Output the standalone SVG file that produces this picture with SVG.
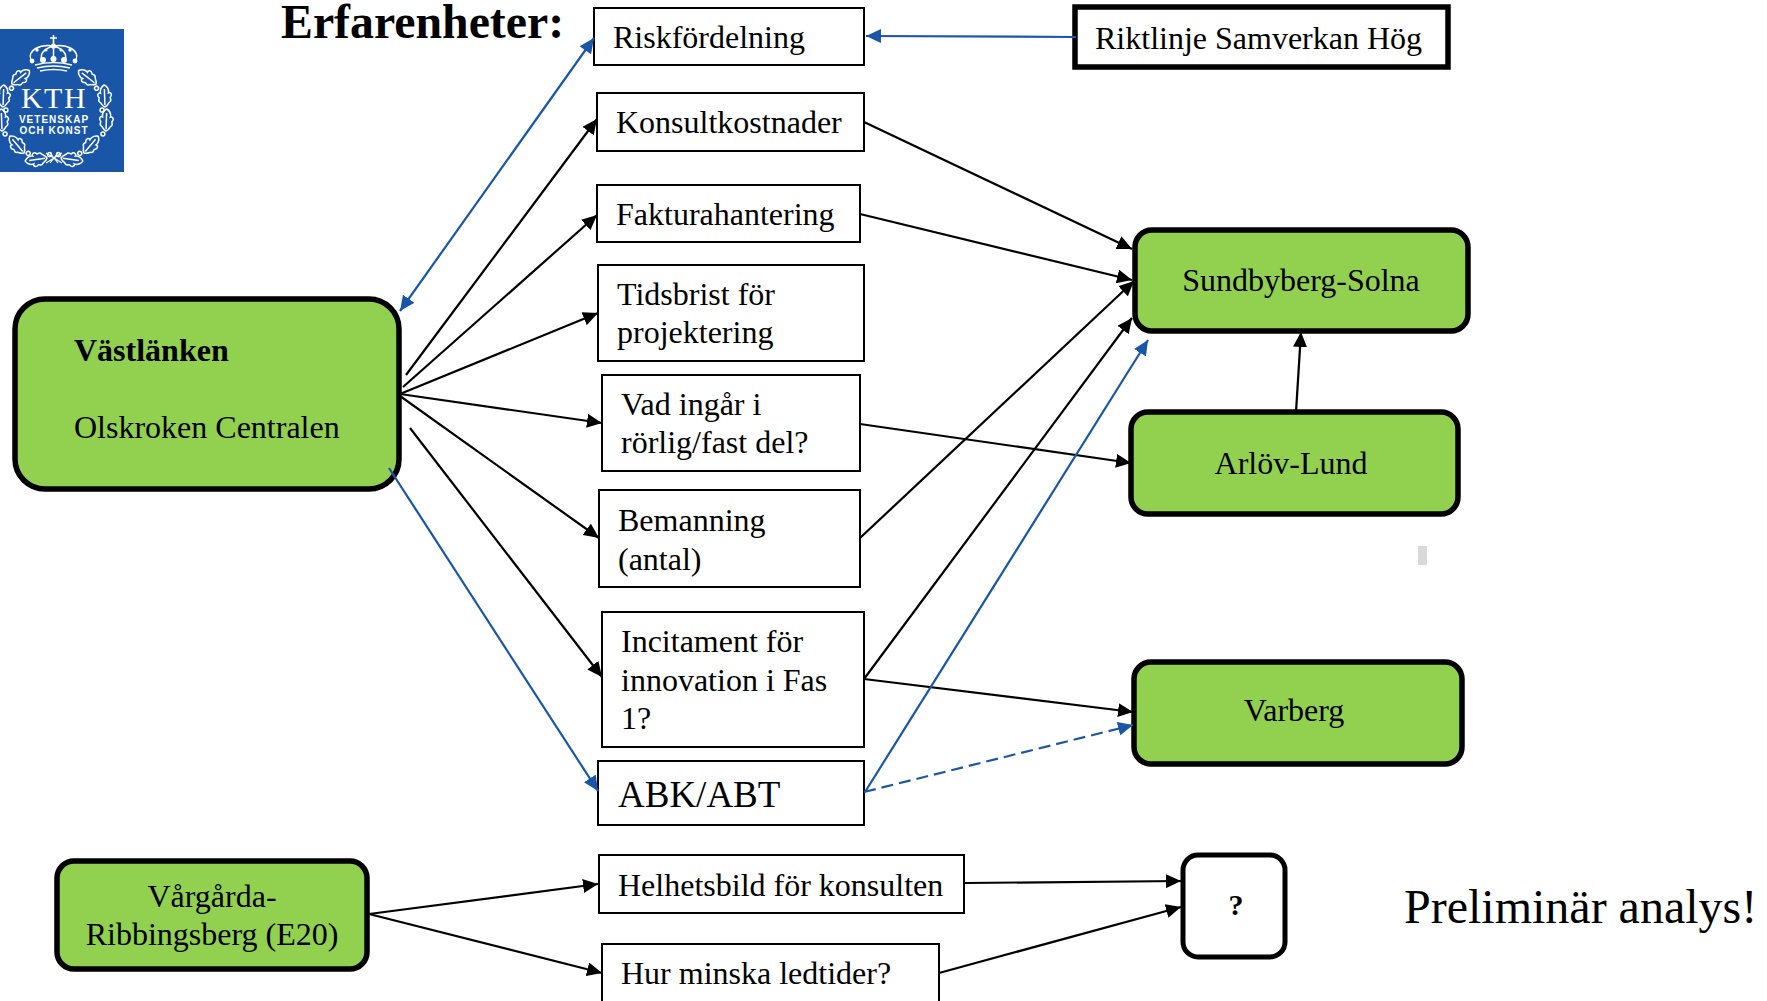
<svg xmlns="http://www.w3.org/2000/svg" width="1767" height="1001" viewBox="0 0 1767 1001">
<style>
text{font-family:"Liberation Serif","Times New Roman",serif;fill:#000;font-size:32px}
.b{fill:#fff;stroke:#000;stroke-width:2}
.g{fill:#92d050;stroke:#000;stroke-width:5.5}
.k{stroke:#000;stroke-width:2.2;fill:none;marker-end:url(#ak)}
.u{stroke:#1a56a8;stroke-width:2.2;fill:none;marker-end:url(#au)}
.w{font-family:"Liberation Sans",sans-serif;fill:#fff;font-size:10px;font-weight:bold;letter-spacing:1px;text-anchor:middle}
.m{text-anchor:middle}
.wr{fill:none;stroke:#fff;stroke-width:1.5}
.wf{fill:#fff}
</style>
<defs>
<marker id="ak" markerUnits="userSpaceOnUse" markerWidth="16" markerHeight="14" refX="15" refY="7" orient="auto"><path d="M0 0L15 7L0 14Z" fill="#000"/></marker>
<marker id="au" markerUnits="userSpaceOnUse" markerWidth="16" markerHeight="14" refX="15" refY="7" orient="auto"><path d="M0 0L15 7L0 14Z" fill="#1a56a8"/></marker>
<marker id="as" markerUnits="userSpaceOnUse" markerWidth="16" markerHeight="14" refX="0" refY="7" orient="auto"><path d="M15 0L0 7L15 14Z" fill="#1a56a8"/></marker>
<g id="leaf"><path class="wr" d="M0 0C2-4 4-3 5-5C7-8 9-4 10-6C12-8 15-6 14-4C18-5 21-2 22 0C21 2 18 5 14 4C15 6 12 8 10 6C9 4 7 8 5 5C4 3 2 4 0 0ZM2 0H18"/><circle class="wr" cx="-3" cy="3" r="2"/></g>
<g id="side">
<use href="#leaf" transform="translate(12 84) rotate(-38)"/>
<use href="#leaf" transform="translate(3 107) rotate(-88)"/>
<use href="#leaf" transform="translate(2 131) rotate(-92)"/>
<use href="#leaf" transform="translate(24 153) rotate(-130)"/>
<use href="#leaf" transform="translate(47 158) rotate(172)"/>
</g>
</defs>
<g id="logo">
<rect x="0" y="29" width="124" height="143" fill="#1a56a8"/>
<use href="#side"/>
<use href="#side" transform="translate(108 0) scale(-1 1)"/>
<path d="M46 153L62 163M62 153L46 163M50 153L58 163M58 153L50 163" stroke="#fff" stroke-width="1.2"/>
<path d="M53.500 35V45M50 38H57" stroke="#fff" stroke-width="1.6"/>
<path class="wr" d="M31 60C27 50 40 44 53.500 46C67 44 80 50 76 60M42 60C39 53 46 48 53.500 46C61 48 68 53 65 60M53.500 46V60"/>
<g class="wf"><circle cx="53.500" cy="46" r="2.600"/><circle cx="32" cy="61" r="2.400"/><circle cx="43" cy="60" r="3"/><circle cx="53.500" cy="59" r="3"/><circle cx="64" cy="60" r="3"/><circle cx="75" cy="61" r="2.400"/><circle cx="37" cy="50" r="1.700"/><circle cx="70" cy="50" r="1.700"/><circle cx="46" cy="50" r="1.500"/><circle cx="61" cy="50" r="1.500"/></g>
<path d="M35 65Q53.500 60 72 65M37 68Q53.500 64 70 68M40 71Q53.500 68 67 71" fill="none" stroke="#fff" stroke-width="1.5"/>
<text x="54" y="108" class="m" style="fill:#fff;font-size:30px;letter-spacing:1.5px">KTH</text>
<text x="54" y="123" class="w">VETENSKAP</text>
<text x="54" y="134" class="w">OCH KONST</text>
</g>
<g id="title"><text x="281" y="38" style="font-size:47.800px;font-weight:bold">Erfarenheter:</text></g>
<g id="n-risk"><rect class="b" x="594" y="8" width="270" height="57"/><text x="613" y="48">Riskfördelning</text></g>
<g id="n-konsult"><rect class="b" x="597" y="93" width="267" height="58"/><text x="616" y="133">Konsultkostnader</text></g>
<g id="n-faktura"><rect class="b" x="597" y="185" width="263" height="57"/><text x="616" y="225">Fakturahantering</text></g>
<g id="n-tid"><rect class="b" x="598" y="265" width="266" height="96"/><text x="617" y="305">Tidsbrist för</text><text x="617" y="343">projektering</text></g>
<g id="n-vad"><rect class="b" x="602" y="375" width="258" height="96"/><text x="621" y="415">Vad ingår i</text><text x="621" y="453">rörlig/fast del?</text></g>
<g id="n-bem"><rect class="b" x="599" y="490" width="261" height="97"/><text x="618" y="531">Bemanning</text><text x="618" y="570">(antal)</text></g>
<g id="n-inc"><rect class="b" x="602" y="612" width="262" height="135"/><text x="621" y="652">Incitament för</text><text x="621" y="691">innovation i Fas</text><text x="621" y="729">1?</text></g>
<g id="n-abk"><rect class="b" x="598" y="761" width="266" height="64"/><text x="618" y="807" style="font-size:37px">ABK/ABT</text></g>
<g id="n-helhet"><rect class="b" x="599" y="855" width="365" height="58"/><text x="618" y="896">Helhetsbild för konsulten</text></g>
<g id="n-hur"><rect class="b" x="602" y="944" width="337" height="62"/><text x="621" y="984">Hur minska ledtider?</text></g>
<g id="n-rikt"><rect x="1075" y="7" width="373" height="60" fill="#fff" stroke="#000" stroke-width="5.500"/><text x="1095" y="49">Riktlinje Samverkan Hög</text></g>
<g id="n-vast"><rect class="g" x="15" y="299" width="384" height="190" rx="30"/><text x="74" y="361" style="font-weight:bold">Västlänken</text><text x="74" y="438">Olskroken Centralen</text></g>
<g id="n-sund"><rect class="g" x="1135" y="230" width="333" height="101" rx="17"/><text x="1301" y="291" class="m">Sundbyberg-Solna</text></g>
<g id="n-arlov"><rect class="g" x="1131" y="412" width="327" height="102" rx="17"/><text x="1291" y="474" class="m">Arlöv-Lund</text></g>
<g id="n-varberg"><rect class="g" x="1134" y="662" width="328" height="102" rx="17"/><text x="1294" y="721" class="m">Varberg</text></g>
<g id="n-varg"><rect class="g" x="57" y="861" width="310" height="108" rx="17"/><text x="212" y="907" class="m">Vårgårda-</text><text x="212" y="945" class="m">Ribbingsberg (E20)</text></g>
<g id="n-q"><rect x="1183" y="855" width="102" height="102" rx="15" fill="#fff" stroke="#000" stroke-width="5"/><text x="1236" y="915" class="m" style="font-size:30px;font-weight:bold">?</text></g>
<g id="mark"><rect x="1418" y="546" width="9" height="19" rx="1" fill="#d9d9d9"/></g>
<g id="note"><text x="1404" y="923" style="font-size:48px">Preliminär analys!</text></g>
<g id="connectors">
<path class="u" d="M594 38L400 311" marker-start="url(#as)"/>
<path class="u" d="M1076 37L866 36"/>
<path class="k" d="M406 375L597 119"/>
<path class="k" d="M403 387L597 215"/>
<path class="k" d="M400 394L598 313"/>
<path class="k" d="M400 394L602 423"/>
<path class="k" d="M400 396L599 538"/>
<path class="k" d="M410 428L602 677"/>
<path class="u" d="M389 468L598 791"/>
<path class="k" d="M864 122L1132 249"/>
<path class="k" d="M860 214L1132 280"/>
<path class="k" d="M860 424L1131 463"/>
<path class="k" d="M860 538L1134 281"/>
<path class="k" d="M864 679L1132 318"/>
<path class="k" d="M864 679L1133 712"/>
<path class="u" d="M865 792L1148 340"/>
<path class="u" d="M864 792L1133 725" stroke-dasharray="12 6"/>
<path class="k" d="M1296 412L1301 332"/>
<path class="k" d="M369 914L598 884"/>
<path class="k" d="M369 914L602 973"/>
<path class="k" d="M965 883L1181 881"/>
<path class="k" d="M939 973L1181 907"/>
</g>
</svg>
